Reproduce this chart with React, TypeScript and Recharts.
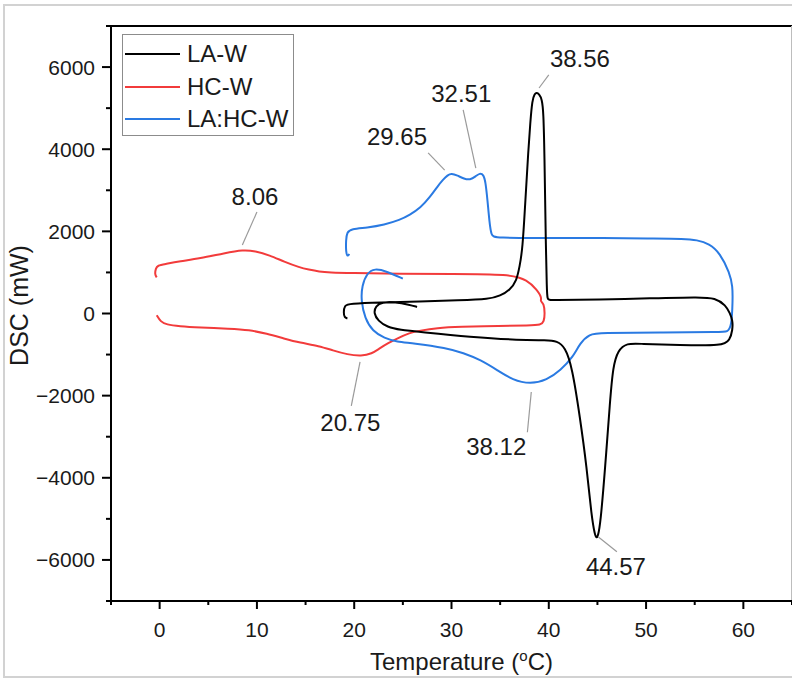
import React from "react"
import {
  ScatterChart,
  Scatter,
  XAxis,
  YAxis,
  ReferenceLine,
  ReferenceDot,
  Legend,
} from "recharts"

type Pt = [number, number]

// temperature (°C), DSC (mW) — each loop drawn in measurement order
const laW: Pt[] = [
  [19.3, -120], [19.0, -100], [18.9, 20], [19.0, 200], [19.5, 240], [22.6, 270],
  [26.7, 290], [30.8, 320], [33.9, 350], [35.0, 430], [36.0, 570], [36.7, 800],
  [37.0, 1150], [37.3, 1550], [37.6, 2770], [37.9, 3990], [38.1, 4650], [38.3, 5200],
  [38.55, 5350], [38.76, 5380], [39.0, 5340], [39.3, 5220], [39.45, 4900], [39.55, 3990],
  [39.7, 1550], [39.8, 600], [39.85, 340], [40.1, 320], [45.2, 340], [50.4, 370],
  [55.5, 400], [57.1, 380], [58.2, 200], [58.6, 10], [58.9, -160], [58.9, -400],
  [58.6, -650], [57.9, -790], [53.4, -770], [49.3, -740], [48.05, -720], [47.1, -890],
  [46.6, -1300], [46.3, -2110], [45.8, -3740], [45.3, -5150], [45.05, -5420], [44.9, -5470],
  [44.75, -5400], [44.4, -4960], [43.9, -3740], [43.2, -2520], [42.4, -1300], [41.67, -816],
  [40.85, -670], [39.8, -650], [37.05, -650], [31.9, -570], [26.8, -450], [24.7, -400],
  [23.4, -330], [22.45, -180], [22.0, 10], [22.2, 180], [22.85, 280], [24.2, 280],
  [25.7, 210], [26.46, 160],
]

const hcW: Pt[] = [
  [-0.3, -40], [0.1, -200], [0.7, -270], [2.0, -310], [4.1, -340], [7.2, -370],
  [9.2, -400], [11.0, -490], [12.8, -610], [14.4, -710], [16.4, -790], [17.8, -900],
  [19.3, -1000], [20.75, -1035], [21.8, -980], [22.6, -850], [23.5, -720], [24.4, -610],
  [25.7, -470], [26.7, -420], [28.5, -350], [30.8, -320], [35.0, -300], [38.0, -290],
  [39.2, -280], [39.5, -200], [39.6, 0], [39.5, 250], [39.1, 300], [39.3, 380],
  [38.8, 570], [37.8, 815], [36.0, 960], [30.0, 965], [24.7, 962], [19.5, 985],
  [17.5, 1000], [16.4, 1020], [15.3, 1070], [14.4, 1120], [12.8, 1260], [11.3, 1420],
  [9.8, 1520], [8.6, 1550], [6.7, 1470], [4.1, 1340], [2.1, 1270], [0.5, 1200],
  [-0.2, 1170], [-0.4, 1100], [-0.5, 950], [-0.3, 880],
]

const laHcW: Pt[] = [
  [19.5, 1450], [19.3, 1380], [19.15, 1500], [19.15, 1780], [19.25, 1980], [19.7, 2060],
  [21.3, 2090], [23.1, 2160], [24.7, 2277], [25.7, 2400], [26.8, 2569], [27.8, 2837],
  [28.6, 3105], [29.1, 3250], [29.6, 3370], [30.0, 3414], [30.6, 3360], [31.3, 3280],
  [31.9, 3250], [32.5, 3340], [32.9, 3420], [33.3, 3380], [33.5, 3200], [33.7, 2760],
  [33.9, 2220], [34.1, 1900], [34.4, 1838], [40.1, 1838], [45.2, 1838], [50.4, 1825],
  [54.0, 1820], [55.2, 1790], [56.5, 1700], [57.6, 1470], [58.6, 990], [58.9, 650],
  [58.9, 330], [58.8, -330], [58.3, -450], [57.9, -450], [51.4, -460], [45.2, -475],
  [44.2, -500], [43.2, -720], [42.5, -1060], [41.2, -1380], [39.8, -1620], [38.1, -1720],
  [36.3, -1620], [34.7, -1380], [33.0, -1130], [31.2, -960], [29.5, -840], [26.0, -720],
  [24.4, -690], [23.1, -600], [21.9, -430], [21.1, -120], [20.7, 320], [20.8, 680],
  [21.3, 980], [22.1, 1100], [23.3, 1030], [25.0, 850],
]

const seriesNames = ["LA-W", "HC-W", "LA:HC-W"]
const seriesColors = ["#000000", "#f23b3b", "#2a7ae2"]

const xTicks = [-5, 0, 5, 10, 15, 20, 25, 30, 35, 40, 45, 50, 55, 60, 65]
const xLabels = [0, 10, 20, 30, 40, 50, 60]
const yTicks = [-7000, -6000, -5000, -4000, -3000, -2000, -1000, 0, 1000, 2000, 3000, 4000, 5000, 6000, 7000]
const yLabels = [-6000, -4000, -2000, 0, 2000, 4000, 6000]

const peakLabels = ["8.06", "29.65", "32.51", "38.56", "20.75", "38.12", "44.57"]

// where each peak label sits, and its leader line (data coordinates)
const calloutText: Pt[] = [
  [9.8, 2840], [24.4, 4300], [31.0, 5345], [43.2, 6210], [19.6, -2655], [34.6, -3240], [46.9, -6150],
]
const calloutFrom: Pt[] = [
  [10.0, 2470], [27.6, 3910], [31.2, 4955], [40.0, 5810], [20.6, -1180], [38.2, -1910], [45.1, -5440],
]
const calloutTo: Pt[] = [
  [8.5, 1670], [29.3, 3490], [32.5, 3540], [39.0, 5490], [19.7, -2250], [37.8, -2890], [47.0, -5800],
]

const FONT = '"Liberation Sans", Arial, sans-serif'
const INK = "#1a1a1a"

const toRows = (pts: Pt[]) => pts.map(([x, y]) => ({ x, y }))
const fmt = (v: number) => (v < 0 ? "\u2212" + Math.abs(v) : String(v))
const noDot = () => <g />

function XTick(props: any) {
  const { x, y, payload } = props
  const major = xLabels.includes(payload.value)
  return (
    <g>
      <line x1={x} x2={x} y1={y} y2={y + (major ? 8 : 4)} stroke="#000" strokeWidth={2} />
      {major && (
        <text x={x} y={y + 36} textAnchor="middle" fontSize={21} fill={INK}>
          {payload.value}
        </text>
      )}
    </g>
  )
}

function YTick(props: any) {
  const { x, y, payload } = props
  const major = yLabels.includes(payload.value)
  return (
    <g>
      <line x1={x - (major ? 9 : 5)} x2={x} y1={y} y2={y} stroke="#000" strokeWidth={2} />
      {major && (
        <text x={x - 16} y={y + 7.5} textAnchor="end" fontSize={21} fill={INK}>
          {fmt(payload.value)}
        </text>
      )}
    </g>
  )
}

function XTitle(props: any) {
  const vb = props.viewBox
  const cx = vb.x + vb.width / 2 + 10
  const by = vb.y + 69
  return (
    <text x={cx} y={by} textAnchor="middle" fontSize={24} fill={INK}>
      Temperature (
      <tspan dy={-9} fontSize={15}>o</tspan>
      <tspan dy={9}>C)</tspan>
    </text>
  )
}

function YTitle(props: any) {
  const vb = props.viewBox
  const bx = 28
  const cy = vb.y + vb.height / 2 - 8
  return (
    <text x={bx} y={cy} transform={`rotate(-90 ${bx} ${cy})`} textAnchor="middle" fontSize={25} fill={INK}>
      DSC (mW)
    </text>
  )
}

function LegendBox() {
  return (
    <div
      style={{
        boxSizing: "border-box",
        width: 172,
        height: 102,
        border: "1px solid #8c8c8c",
        background: "#fff",
        padding: "3px 0 0 2px",
        fontFamily: FONT,
      }}
    >
      {seriesNames.map((name, i) => (
        <div key={name} style={{ display: "flex", alignItems: "center", height: 32.5 }}>
          <div style={{ width: 55, height: 2, background: seriesColors[i] }} />
          <span style={{ marginLeft: 7, fontSize: 24, color: INK, lineHeight: "32px" }}>{name}</span>
        </div>
      ))}
    </div>
  )
}

function Callout(props: any) {
  return (
    <text x={props.cx} y={props.cy} textAnchor="middle" dominantBaseline="central" fontSize={24} fill={INK}>
      {props.label}
    </text>
  )
}

export default function App() {
  const curves = [laW, hcW, laHcW]
  const drawOrder = [1, 2, 0]
  return (
    <div
      style={{
        position: "absolute",
        left: 0,
        top: 0,
        width: 792,
        height: 680,
        overflow: "hidden",
        background: "#fff",
        fontFamily: FONT,
      }}
    >
      <div
        style={{
          position: "absolute",
          left: 3,
          top: 4,
          width: 820,
          height: 674,
          border: "2px solid #d2d2d2",
          boxSizing: "border-box",
        }}
      />
      <ScatterChart width={792} height={680} margin={{ top: 26, right: 0, bottom: 0, left: 0 }}>
        <XAxis
          type="number"
          dataKey="x"
          domain={[-5, 65]}
          ticks={xTicks}
          interval={0}
          allowDataOverflow
          height={79}
          tickSize={0}
          tickMargin={0}
          tickLine={false}
          axisLine={{ stroke: "#000", strokeWidth: 2 }}
          tick={<XTick />}
          label={<XTitle />}
        />
        <YAxis
          type="number"
          dataKey="y"
          domain={[-7000, 7000]}
          ticks={yTicks}
          interval={0}
          allowDataOverflow
          width={111}
          tickSize={0}
          tickMargin={0}
          tickLine={false}
          axisLine={{ stroke: "#000", strokeWidth: 2 }}
          tick={<YTick />}
          label={<YTitle />}
        />
        <ReferenceLine y={7000} stroke="#000" strokeWidth={2} ifOverflow="visible" />
        <ReferenceLine x={65} stroke="#bdbdbd" strokeWidth={2} ifOverflow="visible" />
        {calloutFrom.map((p, i) => (
          <ReferenceLine
            key={"lead" + i}
            segment={[
              { x: p[0], y: p[1] },
              { x: calloutTo[i][0], y: calloutTo[i][1] },
            ]}
            stroke="#9a9a9a"
            strokeWidth={1.2}
            ifOverflow="visible"
          />
        ))}
        {drawOrder.map((s) => (
          <Scatter
            key={seriesNames[s]}
            name={seriesNames[s]}
            data={toRows(curves[s])}
            fill={seriesColors[s]}
            line={{ stroke: seriesColors[s], strokeWidth: 2 }}
            lineJointType="basis"
            shape={noDot}
            isAnimationActive={false}
          />
        ))}
        {calloutText.map((p, i) => (
          <ReferenceDot
            key={"lab" + i}
            x={p[0]}
            y={p[1]}
            r={0}
            ifOverflow="visible"
            shape={(props: any) => <Callout {...props} label={peakLabels[i]} />}
          />
        ))}
        <Legend
          layout="horizontal"
          verticalAlign="middle"
          align="center"
          wrapperStyle={{ left: 122, top: 34, width: 172, height: 102 }}
          content={<LegendBox />}
        />
      </ScatterChart>
    </div>
  )
}
